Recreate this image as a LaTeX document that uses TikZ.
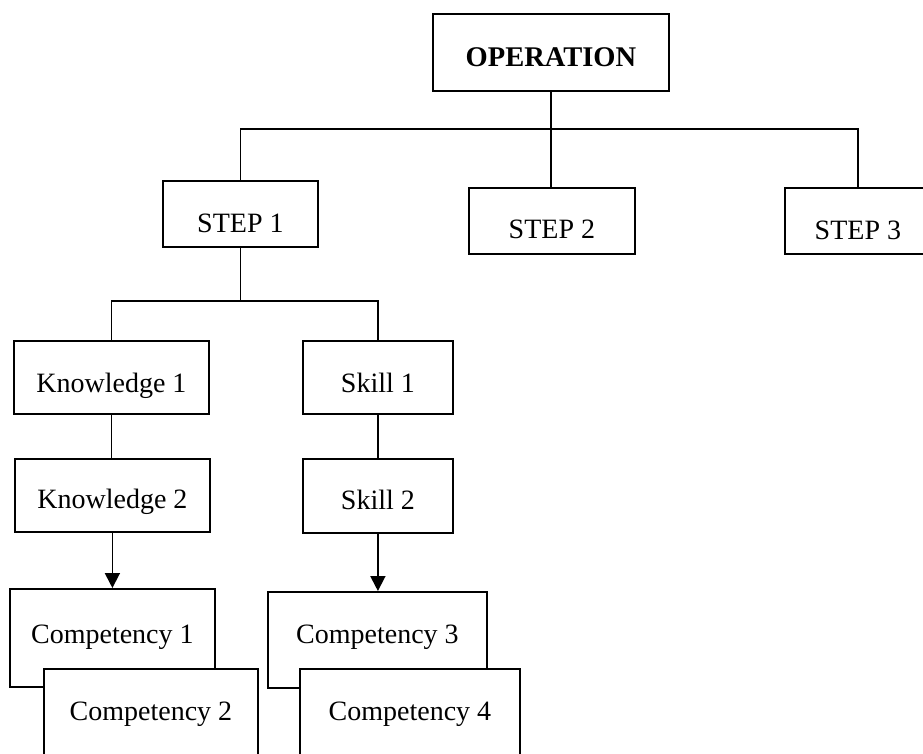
\documentclass[tikz,border=0pt]{standalone}
\usepackage{fontspec}
\setmainfont{Liberation Serif}
\usetikzlibrary{arrows.meta}

\begin{document}
\begin{tikzpicture}[x=1pt,y=-1pt,
  line width=1.8pt,
  box/.style={draw, fill=white, inner sep=0pt, anchor=north west,
    text height=19pt, text depth=0pt,
    font=\fontsize{28}{32}\selectfont},
  link/.style={draw},
  flow/.style={draw, -{Triangle[width=15pt,length=15pt]}}
]
\path[use as bounding box] (0,0) rectangle (923,753);
\clip (0,0) rectangle (923,753);

% operation and its steps
\node[box, font=\fontsize{28.5}{32}\selectfont\bfseries,
  minimum width=236pt, minimum height=77pt] (op) at (432,13) {\raisebox{-5pt}{OPERATION}};
\node[box, minimum width=155pt, minimum height=66pt] (s1) at (162,180) {\raisebox{-9pt}{STEP 1}};
\node[box, minimum width=166pt, minimum height=66pt] (s2) at (468,187) {\raisebox{-8pt}{STEP 2}};
\node[box, minimum width=146pt, minimum height=66pt] (s3) at (784,187) {\raisebox{-9pt}{STEP 3}};

% knowledge and skill chains under step 1
\node[box, minimum width=195pt, minimum height=73pt] (k1) at (13,340) {\raisebox{-6pt}{Knowledge 1}};
\node[box, minimum width=150pt, minimum height=73pt] (sk1) at (302,340) {\raisebox{-6pt}{Skill 1}};
\node[box, minimum width=195pt, minimum height=73pt] (k2) at (14,458) {\raisebox{-4pt}{Knowledge 2}};
\node[box, minimum width=150pt, minimum height=74pt] (sk2) at (302,458) {\raisebox{-4pt}{Skill 2}};

% competencies (stacked, the second one in front)
\node[box, minimum width=205pt, minimum height=98pt] (c1) at (9,588) {\raisebox{4pt}{Competency 1}};
\node[box, minimum width=219pt, minimum height=96pt] (c3) at (267,591) {\raisebox{6pt}{Competency 3}};

% bus lines
\coordinate (bus) at (op.south |- 0,129);
\coordinate (bus2) at (s1.south |- 0,301);
\draw[link] (op.south) -- (bus);
\draw[link] (s1.north) |- (bus) -| (s3.north);
\draw[link] (bus) -- (bus |- s2.north);
\draw[link] (s1.south) -- (bus2);
\draw[link] (k1.north) |- (bus2) -| (sk1.north);
\draw[link] (k1.south) -- (k1.south |- k2.north);
\draw[link] (sk1.south) -- (sk1.south |- sk2.north);

% arrows to competencies
\draw[flow] (k2.south) -- (k2.south |- c1.north);
\draw[flow] (sk2.south) -- (sk2.south |- c3.north);

\node[box, minimum width=214pt, minimum height=88pt] (c2) at (43,668) {\raisebox{2pt}{Competency 2}};
\node[box, minimum width=220pt, minimum height=88pt] (c4) at (299,668) {\raisebox{2pt}{Competency 4}};
\end{tikzpicture}
\end{document}
